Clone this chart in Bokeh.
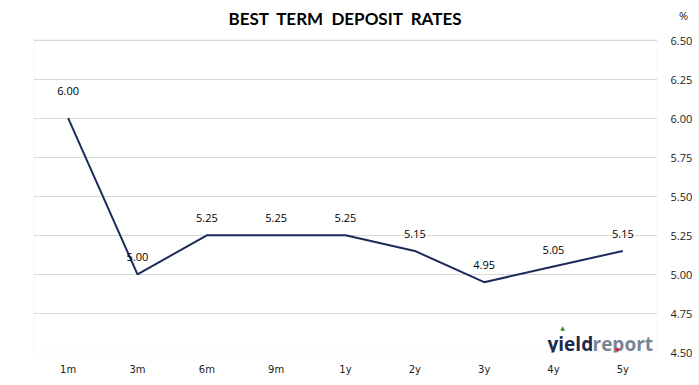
from bokeh.plotting import figure
from bokeh.models import (ColumnDataSource, LinearAxis, Label, FixedTicker, Range1d,
                          LabelSet, PrintfTickFormatter, BoxAnnotation)
from bokeh.embed import file_html
from bokeh.resources import INLINE
from bokeh.core.properties import value

terms = ["1m", "3m", "6m", "9m", "1y", "2y", "3y", "4y", "5y"]
rates = [6.00, 5.00, 5.25, 5.25, 5.25, 5.15, 4.95, 5.05, 5.15]
labels = ["%.2f" % r for r in rates]
y_ticks = [4.50, 4.75, 5.00, 5.25, 5.50, 5.75, 6.00, 6.25, 6.50]
y_min, y_max = 4.50, 6.50

NAVY = "#1b2a5c"
GRID = "#d9d9d9"

# layout helpers: headroom above the plot box (for title and unit marker)
HEAD = 6.74
UNIT_POS = 6.66
# label lift in pixels (first label sits a little higher, as in the original)
label_lift = [23] + [13] * (len(terms) - 1)

src = ColumnDataSource(dict(term=terms, rate=rates, label=labels, lift=label_lift))

p = figure(x_range=terms, frame_width=624, frame_height=350, output_backend="svg",
           toolbar_location=None, y_axis_location=None,
           min_border_left=33, min_border_top=2, min_border_right=42, min_border_bottom=33)
p.y_range = Range1d(y_min, HEAD)
p.outline_line_color = None

# visible plot box
p.add_layout(BoxAnnotation(bottom=y_min, top=y_max, fill_alpha=0,
                           line_color=GRID, line_width=1.5))

p.line("term", "rate", source=src, line_color=NAVY, line_width=2)

ls = LabelSet(x="term", y="rate", text="label", source=src, y_offset="lift",
              text_align="center", text_baseline="bottom",
              text_font=value("Open Sans"), text_font_size="11px", text_color="#000000")
p.add_layout(ls)

yax = LinearAxis(ticker=FixedTicker(ticks=y_ticks + [UNIT_POS]))
yax.formatter = PrintfTickFormatter(format="%.2f")
yax.major_label_overrides = {UNIT_POS: "\u00a0\u00a0\u00a0%"}
yax.axis_line_color = None
yax.major_tick_line_color = None
yax.minor_tick_line_color = None
yax.major_label_standoff = 7
yax.major_label_text_font = "Open Sans"
yax.major_label_text_font_size = "11px"
yax.major_label_text_color = "#222222"
p.add_layout(yax, "right")

p.xaxis.axis_line_color = None
p.xaxis.major_tick_line_color = None
p.xaxis.minor_tick_line_color = None
p.xaxis.major_label_standoff = 5
p.xaxis.major_label_text_font = "DejaVu Sans"
p.xaxis.major_label_text_font_size = "10px"
p.xaxis.major_label_text_color = "#222222"

p.xgrid.grid_line_color = None
p.ygrid.ticker = FixedTicker(ticks=y_ticks)
p.ygrid.grid_line_color = GRID
p.ygrid.grid_line_width = 1

# chart title (frame-relative screen units)
p.add_layout(Label(x=312, y=334, x_units="screen", y_units="screen",
                   text="BEST \u00a0TERM \u00a0DEPOSIT \u00a0RATES",
                   text_font="Lato", text_font_size="17px", text_font_style="bold",
                   text_color="#000000", text_align="center", text_baseline="middle"))

# logo (frame-relative screen units)
p.add_layout(Label(x=514, y=9, x_units="screen", y_units="screen", text="yield",
                   text_font="Open Sans", text_font_size="19px", text_font_style="bold",
                   text_color="#1e2a4a", text_baseline="alphabetic"))
p.add_layout(Label(x=559, y=9, x_units="screen", y_units="screen", text="report",
                   text_font="Open Sans", text_font_size="19px", text_font_style="bold",
                   text_color="#7a8494", text_baseline="alphabetic"))
p.add_layout(Label(x=529, y=25, x_units="screen", y_units="screen", text="\u25b2",
                   text_font="DejaVu Sans", text_font_size="6px", text_color="#2e8b3a",
                   text_align="center", text_baseline="middle"))
p.add_layout(Label(x=584, y=3, x_units="screen", y_units="screen", text="\u25bc",
                   text_font="DejaVu Sans", text_font_size="6px", text_color="#e02020",
                   text_align="center", text_baseline="middle"))

open("out.html", "w").write(file_html(p, INLINE))
